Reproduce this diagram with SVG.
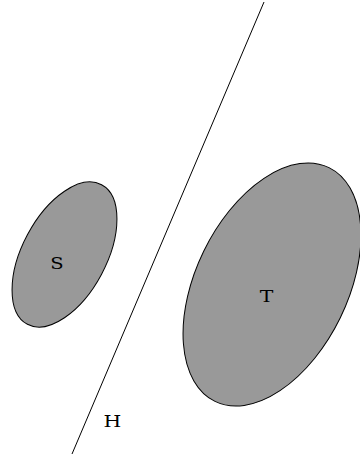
<svg xmlns="http://www.w3.org/2000/svg" width="360" height="457" viewBox="0 0 360 457">
<style>
.blob{fill:#999999;stroke:#000000;stroke-width:1}
.lbl{font-family:"DejaVu Serif","Liberation Serif",serif;font-size:17px;fill:#000000;text-anchor:middle}
.ln{stroke:#000000;stroke-width:1;fill:none}
</style>
<rect width="360" height="457" fill="#ffffff"/>
<g id="connectors">
<line class="ln" x1="264" y1="2" x2="72" y2="454"/>
</g>
<g id="S">
<ellipse class="blob" cx="64.5" cy="254.5" rx="42" ry="79" transform="rotate(28 64.5 254.5)"/>
<text class="lbl" x="57" y="269" transform="translate(57 0) scale(1.15 1) translate(-57 0)">S</text>
</g>
<g id="T">
<ellipse class="blob" cx="272" cy="284.5" rx="76" ry="130" transform="rotate(26 272 284.5)"/>
<text class="lbl" x="266.5" y="302" transform="translate(266.5 0) scale(1.2 1) translate(-266.5 0)">T</text>
</g>
<g id="H">
<text class="lbl" x="112.5" y="427" transform="translate(112.5 0) scale(1.2 1) translate(-112.5 0)">H</text>
</g>
</svg>
